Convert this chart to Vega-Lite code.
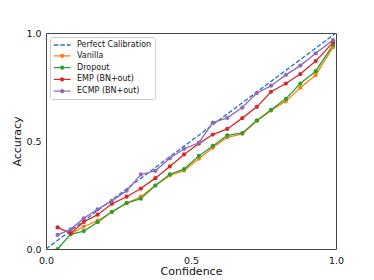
{
  "$schema": "https://vega.github.io/schema/vega-lite/v6.json",
  "autosize": {"type": "none"},
  "padding": {"left": 46, "top": 33, "right": 38, "bottom": 31},
  "width": 290,
  "height": 216,
  "background": "white",
  "config": {
    "view": {"stroke": "#444", "strokeWidth": 1},
    "axis": {
      "grid": false, "domain": false, "ticks": false, "labelFlush": false,
      "labelFont": "DejaVu Sans", "labelFontSize": 9.5, "labelColor": "#111",
      "titleFont": "DejaVu Sans", "titleFontSize": 11, "titleFontWeight": "normal", "titleColor": "#111"
    },
    "legend": {
      "labelFont": "DejaVu Sans", "labelFontSize": 8, "labelColor": "#111"
    }
  },
  "datasets": {
    "perfect": [
      {"series": "Perfect Calibration", "confidence": 0, "accuracy": 0},
      {"series": "Perfect Calibration", "confidence": 1, "accuracy": 1}
    ],
    "models": [
      {"series": "Vanilla", "confidence": 0.085, "accuracy": 0.07},
      {"series": "Vanilla", "confidence": 0.13, "accuracy": 0.103},
      {"series": "Vanilla", "confidence": 0.178, "accuracy": 0.131},
      {"series": "Vanilla", "confidence": 0.227, "accuracy": 0.171},
      {"series": "Vanilla", "confidence": 0.278, "accuracy": 0.213},
      {"series": "Vanilla", "confidence": 0.327, "accuracy": 0.242},
      {"series": "Vanilla", "confidence": 0.377, "accuracy": 0.294},
      {"series": "Vanilla", "confidence": 0.427, "accuracy": 0.341},
      {"series": "Vanilla", "confidence": 0.476, "accuracy": 0.363},
      {"series": "Vanilla", "confidence": 0.527, "accuracy": 0.418},
      {"series": "Vanilla", "confidence": 0.575, "accuracy": 0.469},
      {"series": "Vanilla", "confidence": 0.625, "accuracy": 0.517},
      {"series": "Vanilla", "confidence": 0.677, "accuracy": 0.533},
      {"series": "Vanilla", "confidence": 0.727, "accuracy": 0.593},
      {"series": "Vanilla", "confidence": 0.776, "accuracy": 0.641},
      {"series": "Vanilla", "confidence": 0.827, "accuracy": 0.684},
      {"series": "Vanilla", "confidence": 0.877, "accuracy": 0.747},
      {"series": "Vanilla", "confidence": 0.93, "accuracy": 0.805},
      {"series": "Vanilla", "confidence": 0.99, "accuracy": 0.935},
      {"series": "Dropout", "confidence": 0.04, "accuracy": 0.0},
      {"series": "Dropout", "confidence": 0.085, "accuracy": 0.068},
      {"series": "Dropout", "confidence": 0.13, "accuracy": 0.083},
      {"series": "Dropout", "confidence": 0.178, "accuracy": 0.124},
      {"series": "Dropout", "confidence": 0.227, "accuracy": 0.172},
      {"series": "Dropout", "confidence": 0.278, "accuracy": 0.212},
      {"series": "Dropout", "confidence": 0.327, "accuracy": 0.233},
      {"series": "Dropout", "confidence": 0.377, "accuracy": 0.294},
      {"series": "Dropout", "confidence": 0.427, "accuracy": 0.346},
      {"series": "Dropout", "confidence": 0.476, "accuracy": 0.37},
      {"series": "Dropout", "confidence": 0.527, "accuracy": 0.431},
      {"series": "Dropout", "confidence": 0.575, "accuracy": 0.477},
      {"series": "Dropout", "confidence": 0.625, "accuracy": 0.526},
      {"series": "Dropout", "confidence": 0.677, "accuracy": 0.537},
      {"series": "Dropout", "confidence": 0.727, "accuracy": 0.595},
      {"series": "Dropout", "confidence": 0.776, "accuracy": 0.644},
      {"series": "Dropout", "confidence": 0.827, "accuracy": 0.695},
      {"series": "Dropout", "confidence": 0.877, "accuracy": 0.766},
      {"series": "Dropout", "confidence": 0.93, "accuracy": 0.823},
      {"series": "Dropout", "confidence": 0.99, "accuracy": 0.945},
      {"series": "EMP (BN+out)", "confidence": 0.04, "accuracy": 0.1},
      {"series": "EMP (BN+out)", "confidence": 0.085, "accuracy": 0.073},
      {"series": "EMP (BN+out)", "confidence": 0.13, "accuracy": 0.125},
      {"series": "EMP (BN+out)", "confidence": 0.178, "accuracy": 0.159},
      {"series": "EMP (BN+out)", "confidence": 0.227, "accuracy": 0.209},
      {"series": "EMP (BN+out)", "confidence": 0.278, "accuracy": 0.242},
      {"series": "EMP (BN+out)", "confidence": 0.327, "accuracy": 0.28},
      {"series": "EMP (BN+out)", "confidence": 0.377, "accuracy": 0.328},
      {"series": "EMP (BN+out)", "confidence": 0.427, "accuracy": 0.382},
      {"series": "EMP (BN+out)", "confidence": 0.476, "accuracy": 0.438},
      {"series": "EMP (BN+out)", "confidence": 0.527, "accuracy": 0.488},
      {"series": "EMP (BN+out)", "confidence": 0.575, "accuracy": 0.53},
      {"series": "EMP (BN+out)", "confidence": 0.625, "accuracy": 0.556},
      {"series": "EMP (BN+out)", "confidence": 0.677, "accuracy": 0.606},
      {"series": "EMP (BN+out)", "confidence": 0.727, "accuracy": 0.658},
      {"series": "EMP (BN+out)", "confidence": 0.776, "accuracy": 0.728},
      {"series": "EMP (BN+out)", "confidence": 0.827, "accuracy": 0.766},
      {"series": "EMP (BN+out)", "confidence": 0.877, "accuracy": 0.81},
      {"series": "EMP (BN+out)", "confidence": 0.93, "accuracy": 0.87},
      {"series": "EMP (BN+out)", "confidence": 0.99, "accuracy": 0.956},
      {"series": "ECMP (BN+out)", "confidence": 0.04, "accuracy": 0.065},
      {"series": "ECMP (BN+out)", "confidence": 0.085, "accuracy": 0.091},
      {"series": "ECMP (BN+out)", "confidence": 0.13, "accuracy": 0.142},
      {"series": "ECMP (BN+out)", "confidence": 0.178, "accuracy": 0.184},
      {"series": "ECMP (BN+out)", "confidence": 0.227, "accuracy": 0.223},
      {"series": "ECMP (BN+out)", "confidence": 0.278, "accuracy": 0.27},
      {"series": "ECMP (BN+out)", "confidence": 0.327, "accuracy": 0.345},
      {"series": "ECMP (BN+out)", "confidence": 0.377, "accuracy": 0.362},
      {"series": "ECMP (BN+out)", "confidence": 0.427, "accuracy": 0.42},
      {"series": "ECMP (BN+out)", "confidence": 0.476, "accuracy": 0.464},
      {"series": "ECMP (BN+out)", "confidence": 0.527, "accuracy": 0.492},
      {"series": "ECMP (BN+out)", "confidence": 0.575, "accuracy": 0.585},
      {"series": "ECMP (BN+out)", "confidence": 0.625, "accuracy": 0.607},
      {"series": "ECMP (BN+out)", "confidence": 0.677, "accuracy": 0.655},
      {"series": "ECMP (BN+out)", "confidence": 0.727, "accuracy": 0.722},
      {"series": "ECMP (BN+out)", "confidence": 0.776, "accuracy": 0.756},
      {"series": "ECMP (BN+out)", "confidence": 0.827, "accuracy": 0.806},
      {"series": "ECMP (BN+out)", "confidence": 0.877, "accuracy": 0.849},
      {"series": "ECMP (BN+out)", "confidence": 0.93, "accuracy": 0.906},
      {"series": "ECMP (BN+out)", "confidence": 0.99, "accuracy": 0.967}
    ]
  },
  "encoding": {
    "x": {
      "field": "confidence", "type": "quantitative",
      "scale": {"domain": [0, 1], "nice": false},
      "axis": {"values": [0, 0.5, 1], "format": ".1f", "title": "Confidence", "labelPadding": 6, "titlePadding": 1}
    },
    "y": {
      "field": "accuracy", "type": "quantitative",
      "scale": {"domain": [0, 1], "nice": false},
      "axis": {"values": [0, 0.5, 1], "format": ".1f", "title": "Accuracy", "labelPadding": 5, "titlePadding": 3}
    },
    "color": {
      "field": "series", "type": "nominal",
      "scale": {
        "domain": ["Perfect Calibration", "Vanilla", "Dropout", "EMP (BN+out)", "ECMP (BN+out)"],
        "range": ["#1f77b4", "#ff7f0e", "#2ca02c", "#d62728", "#9467bd"]
      },
      "legend": {
        "title": null,
        "orient": "top-left",
        "offset": 4,
        "padding": 3,
        "rowPadding": 1.8,
        "symbolSize": 70,
        "labelOffset": 14,
        "fillColor": "rgba(255,255,255,0.8)",
        "strokeColor": "#cccccc",
        "cornerRadius": 2,
        "encode": {
          "symbols": {
            "update": {
              "shape": {"signal": "datum.value === 'Perfect Calibration' ? 'M-1,0H3' : 'M-1,0H3M1.35,0A0.35,0.35,0,1,1,0.65,0A0.35,0.35,0,1,1,1.35,0'"},
              "fill": {"signal": "datum.value === 'Perfect Calibration' ? 'transparent' : scale('color', datum.value)"},
              "stroke": {"signal": "scale('color', datum.value)"},
              "strokeDash": {"signal": "datum.value === 'Perfect Calibration' ? [4.5, 2] : [1, 0]"},
              "strokeWidth": {"value": 1.3},
              "opacity": {"value": 1}
            }
          }
        }
      }
    }
  },
  "layer": [
    {
      "data": {"name": "perfect"},
      "mark": {"type": "line", "strokeDash": [4.5, 2], "strokeWidth": 1.3, "clip": true}
    },
    {
      "data": {"name": "models"},
      "mark": {"type": "line", "strokeWidth": 1.3, "clip": true}
    },
    {
      "data": {"name": "models"},
      "mark": {"type": "point", "filled": true, "size": 18, "opacity": 1, "clip": true}
    }
  ]
}
